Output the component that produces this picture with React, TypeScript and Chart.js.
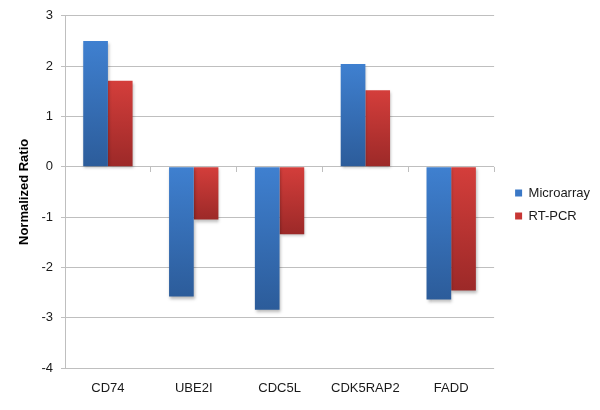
import React, { useEffect, useRef } from "react";
import { Chart, registerables } from "chart.js";

Chart.register(...registerables);

const categories = ["CD74", "UBE2I", "CDC5L", "CDK5RAP2", "FADD"];
const microarray = [2.5, -2.58, -2.84, 2.04, -2.64];
const rtpcr = [1.71, -1.05, -1.34, 1.52, -2.46];
const yTicks = [3, 2, 1, 0, -1, -2, -3, -4];

const FONT = "'Liberation Sans', Arial, sans-serif";
const GRID = "#bfbfbf";

function gradientFill(top: string, bottom: string, solid: string) {
  return (ctx: any) => {
    const chart = ctx.chart;
    const area = chart.chartArea;
    const ys = chart.scales && chart.scales.y;
    if (!area || !ys || ctx.type !== "data") return solid;
    const v = ctx.raw;
    const p1 = ys.getPixelForValue(v);
    const p0 = ys.getPixelForValue(0);
    if (!isFinite(p1) || !isFinite(p0)) return solid;
    const t = Math.min(p0, p1);
    let b = Math.max(p0, p1);
    if (b - t < 1) b = t + 1;
    const g = chart.ctx.createLinearGradient(0, t, 0, b);
    g.addColorStop(0, top);
    g.addColorStop(1, bottom);
    return g;
  };
}

const shadowPlugin = {
  id: "barShadow",
  beforeDatasetsDraw(chart: any) {
    const c = chart.ctx;
    c.save();
    c.shadowColor = "rgba(0,0,0,0.28)";
    c.shadowBlur = 3;
    c.shadowOffsetX = 1;
    c.shadowOffsetY = 2;
  },
  afterDatasetsDraw(chart: any) {
    chart.ctx.restore();
  },
};

export default function App() {
  const ref = useRef<HTMLCanvasElement | null>(null);

  useEffect(() => {
    if (!ref.current) return;
    const solid = ["#3a78c6", "#c73634"];
    const chart = new Chart(ref.current, {
      type: "bar",
      data: {
        labels: categories,
        datasets: [
          {
            label: "Microarray",
            data: microarray,
            backgroundColor: gradientFill("#3f80d0", "#2c5c9a", solid[0]),
            borderWidth: 0,
            barPercentage: 1,
            categoryPercentage: 0.575,
          },
          {
            label: "RT-PCR",
            data: rtpcr,
            backgroundColor: gradientFill("#d43e3b", "#9c2928", solid[1]),
            borderWidth: 0,
            barPercentage: 1,
            categoryPercentage: 0.575,
          },
        ],
      },
      options: {
        responsive: false,
        animation: false,
        layout: { padding: { top: 15, bottom: 16, left: 0, right: 0 } },
        plugins: {
          tooltip: { enabled: false },
          title: { display: false },
          legend: {
            position: "right",
            align: "center",
            labels: {
              boxWidth: 7,
              boxHeight: 7,
              padding: 10,
              color: "#1a1a1a",
              font: { family: FONT, size: 13 },
              generateLabels: (ch: any) => {
                const items = Chart.defaults.plugins.legend.labels.generateLabels(ch);
                items.forEach((it: any, i: number) => {
                  it.fillStyle = solid[i];
                  it.strokeStyle = solid[i];
                  it.lineWidth = 0;
                });
                return items;
              },
            },
          },
        },
        scales: {
          x: {
            type: "category",
            position: "bottom",
            offset: true,
            grid: { display: false, drawTicks: false, offset: true },
            border: { display: false },
            ticks: {
              padding: 13,
              color: "#1a1a1a",
              font: { family: FONT, size: 13 },
              maxRotation: 0,
              autoSkip: false,
            },
            afterFit: (s: any) => {
              s.height = 26;
            },
          },
          x2: {
            type: "category",
            axis: "x",
            labels: categories,
            position: { y: 0 },
            offset: true,
            grid: {
              offset: true,
              drawOnChartArea: false,
              drawTicks: true,
              tickLength: 5,
              color: GRID,
            },
            border: { display: false },
            ticks: { display: false },
          },
          y: {
            type: "linear",
            position: "left",
            min: -4,
            max: 3,
            afterBuildTicks: (s: any) => {
              s.ticks = yTicks.slice().reverse().map((v) => ({ value: v }));
            },
            grid: { color: GRID, tickLength: 4, drawTicks: true },
            border: { display: true, color: GRID },
            ticks: {
              padding: 8,
              color: "#1a1a1a",
              font: { family: FONT, size: 13 },
              callback: (v: any) => String(v),
            },
            title: {
              display: true,
              text: "Normalized Ratio",
              color: "#000",
              font: { family: FONT, size: 13, weight: "bold" },
              padding: { top: 17, bottom: 0 },
            },
            afterFit: (s: any) => {
              s.width = 65;
            },
          },
          yPad: {
            type: "linear",
            position: "right",
            display: true,
            grid: { display: false, drawTicks: false },
            border: { display: false },
            ticks: { display: false },
            afterFit: (s: any) => {
              s.width = 11;
            },
          },
        },
      },
      plugins: [shadowPlugin],
    });
    return () => chart.destroy();
  }, []);

  return (
    <div
      style={{
        position: "absolute",
        left: 0,
        top: 0,
        width: 600,
        height: 410,
        background: "#ffffff",
      }}
    >
      <canvas ref={ref} width={600} height={410} style={{ display: "block" }} />
    </div>
  );
}
